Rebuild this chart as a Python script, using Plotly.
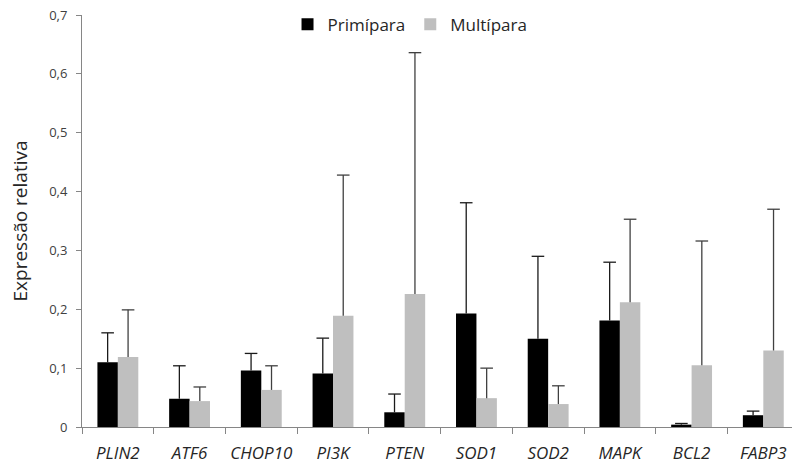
import plotly.graph_objects as go

genes = ["PLIN2", "ATF6", "CHOP10", "PI3K", "PTEN", "SOD1", "SOD2", "MAPK", "BCL2", "FABP3"]
primipara = [0.110, 0.048, 0.096, 0.091, 0.025, 0.193, 0.150, 0.181, 0.004, 0.020]
primipara_upper = [0.160, 0.104, 0.125, 0.151, 0.056, 0.381, 0.290, 0.280, 0.006, 0.027]
multipara = [0.119, 0.044, 0.063, 0.189, 0.226, 0.049, 0.039, 0.212, 0.105, 0.130]
multipara_upper = [0.199, 0.068, 0.104, 0.428, 0.636, 0.100, 0.070, 0.353, 0.316, 0.370]

err_p = [u - v for u, v in zip(primipara_upper, primipara)]
err_m = [u - v for u, v in zip(multipara_upper, multipara)]

black = "#000000"
gray = "#BFBFBF"
err_color_p = "#1a1a1a"
err_color_m = "#404040"
font_family = "'Open Sans', 'Noto Sans', sans-serif"

fig = go.Figure()
fig.add_trace(go.Bar(
    name="Primípara", x=genes, y=primipara, marker_color=black, marker_line_width=0,
    offsetgroup="p",
    error_y=dict(type="data", symmetric=False, array=err_p, arrayminus=[0]*len(genes),
                 width=0, thickness=1.3, color=err_color_p),
))
fig.add_trace(go.Bar(
    name="Multípara", x=genes, y=multipara, marker_color=gray, marker_line_width=0,
    offsetgroup="m",
    error_y=dict(type="data", symmetric=False, array=err_m, arrayminus=[0]*len(genes),
                 width=0, thickness=1.3, color=err_color_m),
))
# caps at the top of the error bars
fig.add_trace(go.Scatter(
    x=genes, y=primipara_upper, mode="markers", offsetgroup="p", showlegend=False,
    hoverinfo="skip",
    marker=dict(symbol="line-ew", size=9, line=dict(color=err_color_p, width=1.3)),
))
fig.add_trace(go.Scatter(
    x=genes, y=multipara_upper, mode="markers", offsetgroup="m", showlegend=False,
    hoverinfo="skip",
    marker=dict(symbol="line-ew", size=9, line=dict(color=err_color_m, width=1.3)),
))

fig.update_layout(
    width=792, height=466,
    margin=dict(l=82, r=0, t=15, b=39, autoexpand=False),
    paper_bgcolor="white", plot_bgcolor="white",
    barmode="group", bargap=0.43, bargroupgap=0,
    scattermode="group", scattergap=0.43,
    separators=", ",
    font=dict(family=font_family, color="#404040"),
    legend=dict(orientation="h", x=0.462, xanchor="center", y=1.02, yanchor="top",
                font=dict(size=17, color="#262626"), itemwidth=30, traceorder="normal",
                bgcolor="rgba(0,0,0,0)"),
    showlegend=True,
)
fig.update_xaxes(
    type="category", range=[-0.5, 9.4], automargin=False, tickangle=0,
    showline=True, linecolor="#868686", linewidth=1,
    ticks="outside", tickson="boundaries", ticklen=6, tickcolor="#868686",
    ticklabelstandoff=11,
    tickfont=dict(size=17, style="italic", color="#262626"),
    showgrid=False, zeroline=False,
)
fig.update_yaxes(
    range=[0, 0.7], dtick=0.1, tick0=0, automargin=False,
    showline=True, linecolor="#868686", linewidth=1,
    ticks="outside", ticklen=5, tickcolor="#868686",
    ticklabelstandoff=6,
    tickfont=dict(size=13, color="#404040"),
    showgrid=False, zeroline=False,
    title=dict(text="Expressão relativa", font=dict(size=19, color="#262626"), standoff=16),
)

fig.write_html("out.html", post_script="document.body.style.margin='0';",
               config={"displayModeBar": False})
